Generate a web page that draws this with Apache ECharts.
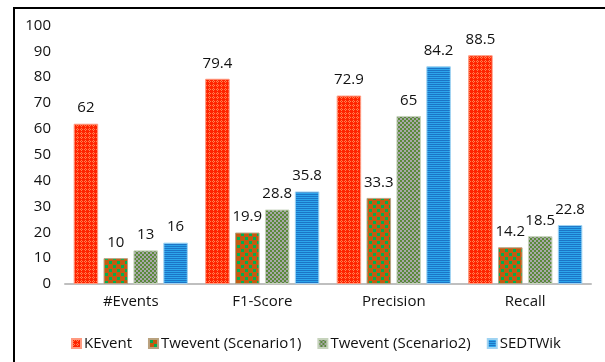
<!DOCTYPE html>
<html>
<head>
<meta charset="utf-8">
<script src="https://cdn.jsdelivr.net/npm/echarts@6/dist/echarts.min.js"></script>
<style>html,body{margin:0;padding:0;background:#fff}#c{width:605px;height:362px}</style>
</head>
<body>
<div id="c"></div>
<script>
const categories = ['#Events', 'F1-Score', 'Precision', 'Recall'];
const seriesNames = ['KEvent', 'Twevent (Scenario1)', 'Twevent (Scenario2)', 'SEDTWik'];
const kevent = [62, 79.4, 72.9, 88.5];
const twevent1 = [10, 19.9, 33.3, 14.2];
const twevent2 = [13, 28.8, 65, 18.5];
const sedtwik = [16, 35.8, 84.2, 22.8];
const yTicks = [0, 10, 20, 30, 40, 50, 60, 70, 80, 90, 100];

function tile(w, h, draw) {
  const c = document.createElement('canvas');
  c.width = w; c.height = h;
  const g = c.getContext('2d');
  draw(g);
  return c;
}
const pKEvent = tile(4, 4, g => {
  g.fillStyle = '#FF2400'; g.fillRect(0, 0, 4, 4);
  g.fillStyle = '#FF8050';
  [[1,0],[0,1],[2,1],[1,2]].forEach(p => g.fillRect(p[0], p[1], 1, 1));
});
const pTw1 = tile(8, 8, g => {
  g.fillStyle = '#C55A11'; g.fillRect(0, 0, 8, 8);
  g.fillStyle = '#00B050';
  g.fillRect(1, 1, 3, 3); g.fillRect(5, 5, 3, 3);
});
const pTw2 = tile(4, 4, g => {
  g.fillStyle = '#A8A8A8'; g.fillRect(0, 0, 4, 4);
  g.fillStyle = '#5A8A3A';
  g.fillRect(0, 0, 2, 2); g.fillRect(2, 2, 2, 2);
});
const pSedt = tile(2, 2, g => {
  g.fillStyle = '#1C74C6'; g.fillRect(0, 0, 2, 1);
  g.fillStyle = '#2CA6EC'; g.fillRect(0, 1, 2, 1);
});

const values = [kevent, twevent1, twevent2, sedtwik];
const fills = [pKEvent, pTw1, pTw2, pSedt];
const borders = ['#FF9A80', '#B9A27F', '#C6D3BC', '#9FD3F2'];

const font = "'Open Sans', 'Liberation Sans', sans-serif";
const chart = echarts.init(document.getElementById('c'), null, {renderer: 'canvas'});
chart.setOption({
  animation: false,
  backgroundColor: '#fff',
  graphic: [{
    type: 'rect', silent: true, z: 100,
    shape: {x: 14, y: 8, width: 700, height: 500},
    style: {fill: 'none', stroke: '#000', lineWidth: 2}
  }],
  grid: {left: 65, right: 14, top: 25.5, bottom: 78},
  legend: {
    data: seriesNames,
    left: 66, top: 331,
    itemWidth: 9, itemHeight: 9, itemGap: 16,
    icon: 'rect',
    textStyle: {fontFamily: font, fontSize: 15, color: '#111', padding: [0, 0, 0, -2]}
  },
  xAxis: {
    type: 'category', data: categories,
    axisLine: {lineStyle: {color: '#BFBFBF', width: 2}},
    axisTick: {show: false},
    axisLabel: {fontFamily: font, fontSize: 15, color: '#111', margin: 10}
  },
  yAxis: {
    type: 'value', min: 0, max: 100, interval: 10,
    axisLine: {show: false}, axisTick: {show: false}, splitLine: {show: false},
    axisLabel: {fontFamily: font, fontSize: 15, color: '#111', margin: 14,
      formatter: v => yTicks.includes(v) ? String(v) : ''}
  },
  series: seriesNames.map((n, i) => ({
    name: n, type: 'bar', data: values[i],
    barWidth: 24.5, barGap: '22%',
    itemStyle: {color: {image: fills[i], repeat: 'repeat'}, borderColor: borders[i], borderWidth: 1},
    label: {show: true, position: 'top', distance: 8, fontFamily: font, fontSize: 15, color: '#111'}
  }))
});
</script>
</body>
</html>
